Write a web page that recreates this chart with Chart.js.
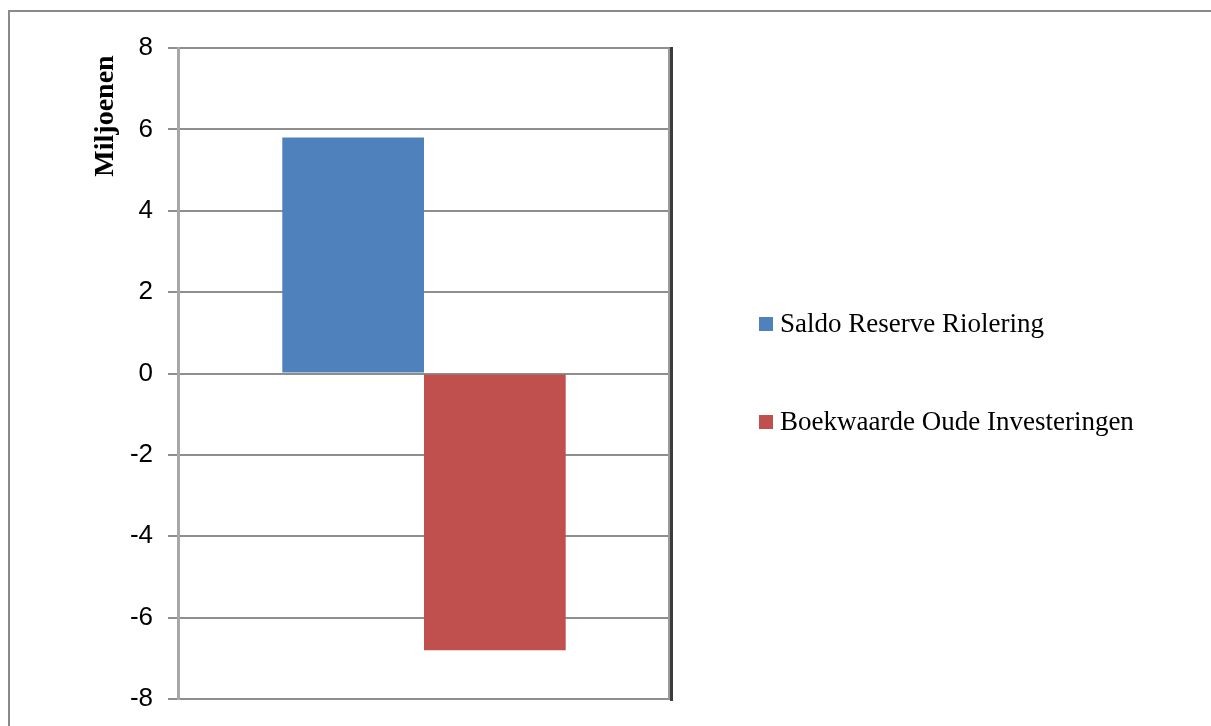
<!DOCTYPE html>
<html lang="nl">
<head>
    <meta charset="UTF-8">
    <title>Riolering</title>
    <script src="https://cdn.jsdelivr.net/npm/chart.js@4/dist/chart.umd.min.js"></script>
    <style>
        body { margin: 0; background: #fff; }
    </style>
</head>
<body>
    <canvas id="chart" width="1211" height="726"></canvas>
</body>
</html>

<script>
    // waarden in miljoenen
    const categories = [''];
    const seriesNames = ['Saldo Reserve Riolering', 'Boekwaarde Oude Investeringen'];
    const saldoReserve = [5.8];
    const boekwaarde = [-6.8];
    const yTicks = [-8, -6, -4, -2, 0, 2, 4, 6, 8];
    const yTitle = 'Miljoenen';

    const colors = ['#4f81bd', '#c0504d'];

    // kader om de grafiek, astitel, rechterrand van het plotvlak en de legenda
    const decorations = {
        id: 'decorations',
        beforeDraw(c) {
            const ctx = c.ctx;
            ctx.save();
            ctx.strokeStyle = '#8a8a8a';
            ctx.lineWidth = 2;
            ctx.beginPath();
            ctx.moveTo(9, 726);
            ctx.lineTo(9, 11);
            ctx.lineTo(1211, 11);
            ctx.stroke();
            ctx.restore();
        },
        afterDraw(c) {
            const ctx = c.ctx;
            const a = c.chartArea;
            ctx.save();
            ctx.strokeStyle = '#9a9a9a';
            ctx.lineWidth = 2;
            ctx.beginPath();
            ctx.moveTo(a.right - 1, a.top);
            ctx.lineTo(a.right - 1, a.bottom);
            ctx.stroke();
            ctx.strokeStyle = '#3c3c3c';
            ctx.lineWidth = 3;
            ctx.beginPath();
            ctx.moveTo(a.right + 1.5, a.top - 1);
            ctx.lineTo(a.right + 1.5, a.bottom + 2);
            ctx.stroke();

            // titel van de y-as
            ctx.save();
            ctx.translate(106, 116);
            ctx.rotate(-Math.PI / 2);
            ctx.font = 'bold 28px "Liberation Serif"';
            ctx.textAlign = 'center';
            ctx.textBaseline = 'middle';
            ctx.fillStyle = '#000';
            ctx.fillText(yTitle, 0, 0);
            ctx.restore();

            // legenda
            ctx.font = '27px "Liberation Serif"';
            ctx.textBaseline = 'middle';
            c.data.datasets.forEach((ds, i) => {
                const y = 324 + i * 98;
                ctx.fillStyle = ds.backgroundColor;
                ctx.fillRect(759, y - 7, 14, 14);
                ctx.fillStyle = '#000';
                ctx.fillText(ds.label, 780, y + 1);
            });
            ctx.restore();
        }
    };

    const myChart = new Chart(document.querySelector('#chart'), {
        type: 'bar',
        data: {
            labels: categories,
            datasets: [
                { label: seriesNames[0], data: saldoReserve, backgroundColor: colors[0] },
                { label: seriesNames[1], data: boekwaarde, backgroundColor: colors[1] }
            ]
        },
        options: {
            responsive: false,
            animation: false,
            layout: { padding: { left: 0, top: 48, right: 541, bottom: 27 } },
            datasets: {
                bar: { barPercentage: 1, categoryPercentage: 0.576 }
            },
            plugins: {
                legend: { display: false },
                tooltip: { enabled: false }
            },
            scales: {
                x: { display: false },
                y: {
                    min: -8,
                    max: 8,
                    afterBuildTicks(scale) {
                        scale.ticks = yTicks.map(v => ({ value: v }));
                    },
                    afterFit(scale) {
                        scale.width = 178;
                    },
                    ticks: {
                        padding: 15,
                        color: '#000',
                        font: { family: '"Liberation Sans"', size: 26, lineHeight: 0.8 }
                    },
                    grid: {
                        color: '#8e8e8e',
                        lineWidth: 2,
                        tickLength: 10
                    },
                    border: { color: '#a8a8a8', width: 3 }
                }
            }
        },
        plugins: [decorations]
    });
</script>
